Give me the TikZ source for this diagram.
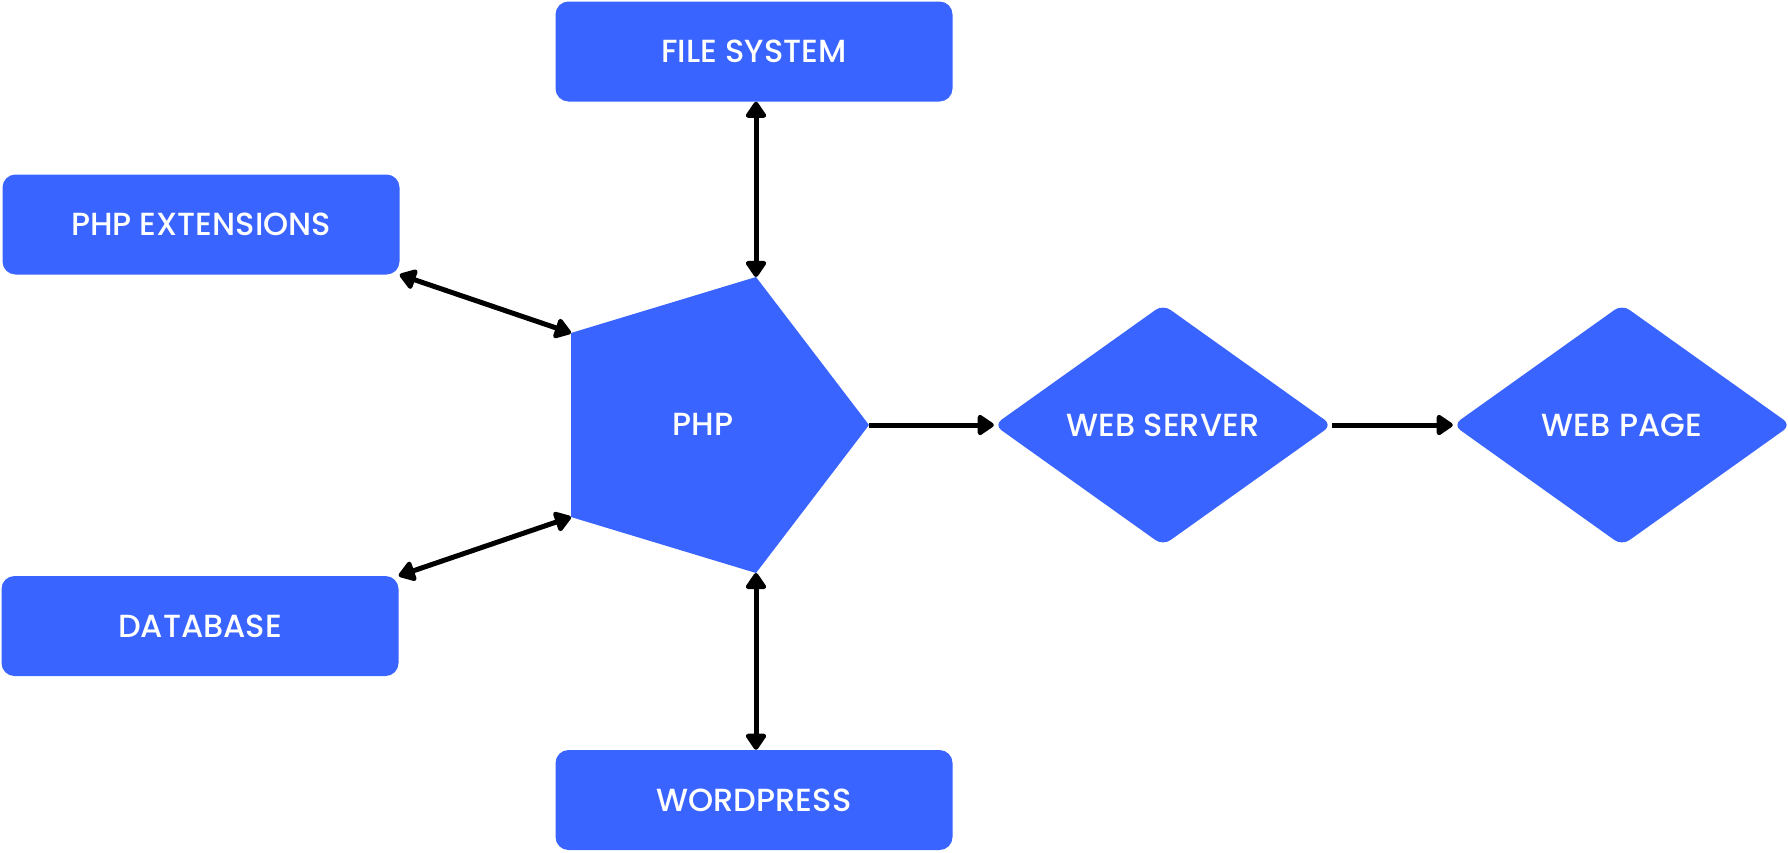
\documentclass[tikz,border=0pt]{standalone}
\usepackage{fontspec}
\setmainfont{Poppins}[UprightFont=* Medium]
\usetikzlibrary{arrows.meta,shapes.geometric}
\definecolor{phpblue}{RGB}{58,100,255}
\begin{document}
\begin{tikzpicture}[x=1pt,y=-1pt,
  lbl/.style={text=white,font=\fontsize{32}{37}\selectfont},
  rbox/.style={fill=phpblue,rounded corners=13pt,minimum width=397pt,minimum height=100pt,inner sep=0pt,lbl},
  dia/.style={diamond,fill=phpblue,rounded corners=9pt,minimum width=338pt,minimum height=241pt,inner sep=0pt,lbl},
  conn/.style={line width=5pt,-{Triangle[length=18pt,width=23pt,round]}},
  bconn/.style={line width=5pt,{Triangle[length=18pt,width=23pt,round]}-{Triangle[length=18pt,width=23pt,round]}}
]
\useasboundingbox (0,0) rectangle (1788,852);
% boxes
\node[rbox] (fs) at (754,51.5) {FILE SYSTEM};
\node[rbox] (ext) at (201,224.5) {PHP EXTENSIONS};
\node[rbox] (db) at (200,626) {DATABASE};
\node[rbox] (wp) at (754,800) {WORDPRESS};
% pentagon
\coordinate (pT) at (756,277);
\coordinate (pR) at (869,425);
\coordinate (pB) at (756,573);
\coordinate (pLL) at (571,517);
\coordinate (pUL) at (571,333);
\fill[phpblue] (pT) -- (pR) -- (pB) -- (pLL) -- (pUL) -- cycle;
\node[lbl] (php) at (703,424) {PHP};
% diamonds
\node[dia] (ws) at (1163,425) {WEB SERVER};
\node[dia] (wpg) at (1622,425) {WEB PAGE};
% connectors
\draw[bconn] (fs.south -| pT) -- (pT);
\draw[bconn] (pB) -- (wp.north -| pB);
\draw[bconn] (ext.south east) -- (pUL);
\draw[bconn] (db.north east) -- (pLL);
\draw[conn] (pR) -- (ws.west);
\draw[conn] (ws.east) -- (wpg.west);
\end{tikzpicture}
\end{document}
